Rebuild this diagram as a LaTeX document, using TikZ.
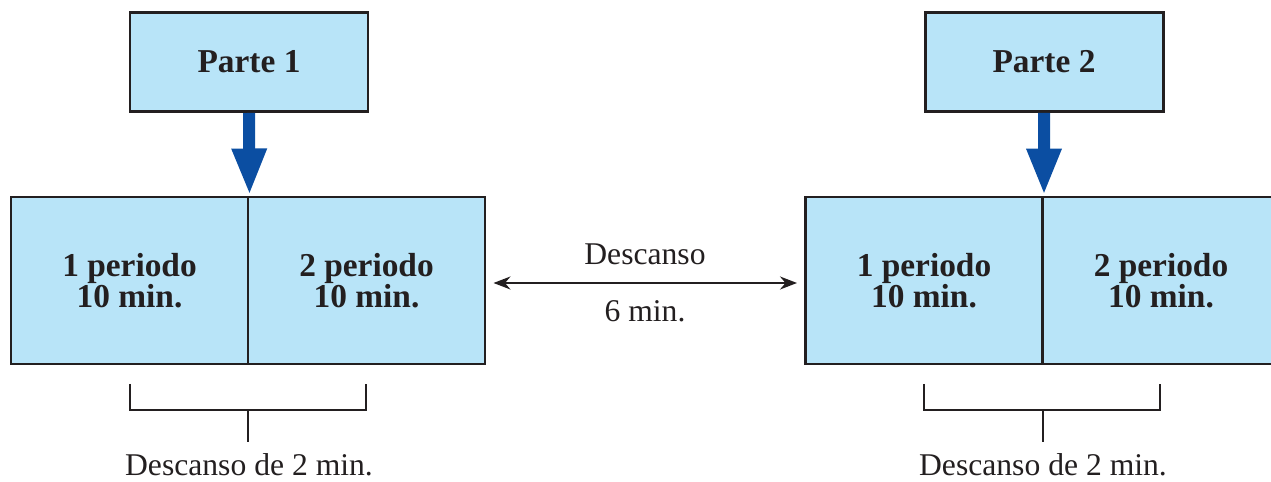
\documentclass[tikz,border=0pt]{standalone}
\usepackage{fontspec}
\setmainfont{Liberation Serif}
\usepackage{xcolor}
\usepackage{tikz}
\usetikzlibrary{arrows.meta,calc}
\definecolor{boxBlue}{HTML}{B8E4F8}
\definecolor{arrowBlue}{HTML}{0B4EA2}
\definecolor{lineGray}{HTML}{231F20}
\tikzstyle{tsBold} = [ 
    text=lineGray, 
    font=\bfseries\fontsize{19}{17.6}\selectfont
]
\tikzstyle{tsPlain} = [ 
    text=lineGray, 
    font=\fontsize{18}{20}\selectfont
]
\tikzstyle{tsRectangle} = [ 
    rectangle,
    tsBold,
    align=center,
    draw=lineGray,
    fill=boxBlue,
    line width=1.7pt]
\tikzstyle{tsPart} = [ 
    tsRectangle,
    minimum width=4.76cm,
    minimum height=1.98cm]
\tikzstyle{tsPeriod} = [ 
    tsRectangle,
    minimum width=4.74cm,
    minimum height=3.34cm]
\tikzstyle{tsDown} = [ 
    draw=arrowBlue,
    line width=0.24cm,
    -{Triangle[width=0.64cm,length=0.94cm]}]
\tikzstyle{tsBracket} = [ 
    draw=lineGray,
    line width=1.1pt]

\begin{document}
\begin{tikzpicture}

        \useasboundingbox (0,0) rectangle (25.42,9.64);

        % parts
        \node[tsPart] (part1) at (4.98,8.4) {Parte 1};
        \node[tsPart] (part2) at (20.88,8.4) {Parte 2};

        % periods
        \node[tsPeriod] (per1a) at (2.59,4.03) {1 periodo\\10 min.};
        \node[tsPeriod] (per1b) at (7.33,4.03) {2 periodo\\10 min.};
        \node[tsPeriod] (per2a) at (18.48,4.03) {1 periodo\\10 min.};
        \node[tsPeriod] (per2b) at (23.22,4.03) {2 periodo\\10 min.};

        \draw[tsDown] (part1.south) -- (per1a.north east);
        \draw[tsDown] (part2.south) -- (per2a.north east);

        % break between parts
        \draw[tsBracket, {Stealth[length=0.34cm,width=0.26cm]}-{Stealth[length=0.34cm,width=0.26cm]},
              shorten <=0.14cm, shorten >=0.14cm]
              ([yshift=-0.05cm]per1b.east) -- ([yshift=-0.05cm]per2a.west);
        \node[tsPlain] (brk) at (12.9,4.56) {Descanso};
        \node[tsPlain] (brkmin) at (12.9,3.42) {6 min.};

        % brackets
        \draw[tsBracket] (2.6,1.96) -- (2.6,1.44) -- (7.32,1.44) -- (7.32,1.96);
        \draw[tsBracket] (4.96,1.44) -- (4.96,0.8);
        \node[tsPlain] (rest1) at (4.98,0.35) {Descanso de 2 min.};

        \draw[tsBracket] (18.48,1.96) -- (18.48,1.44) -- (23.2,1.44) -- (23.2,1.96);
        \draw[tsBracket] (20.86,1.44) -- (20.86,0.8);
        \node[tsPlain] (rest2) at (20.86,0.35) {Descanso de 2 min.};

\end{tikzpicture}
\end{document}
